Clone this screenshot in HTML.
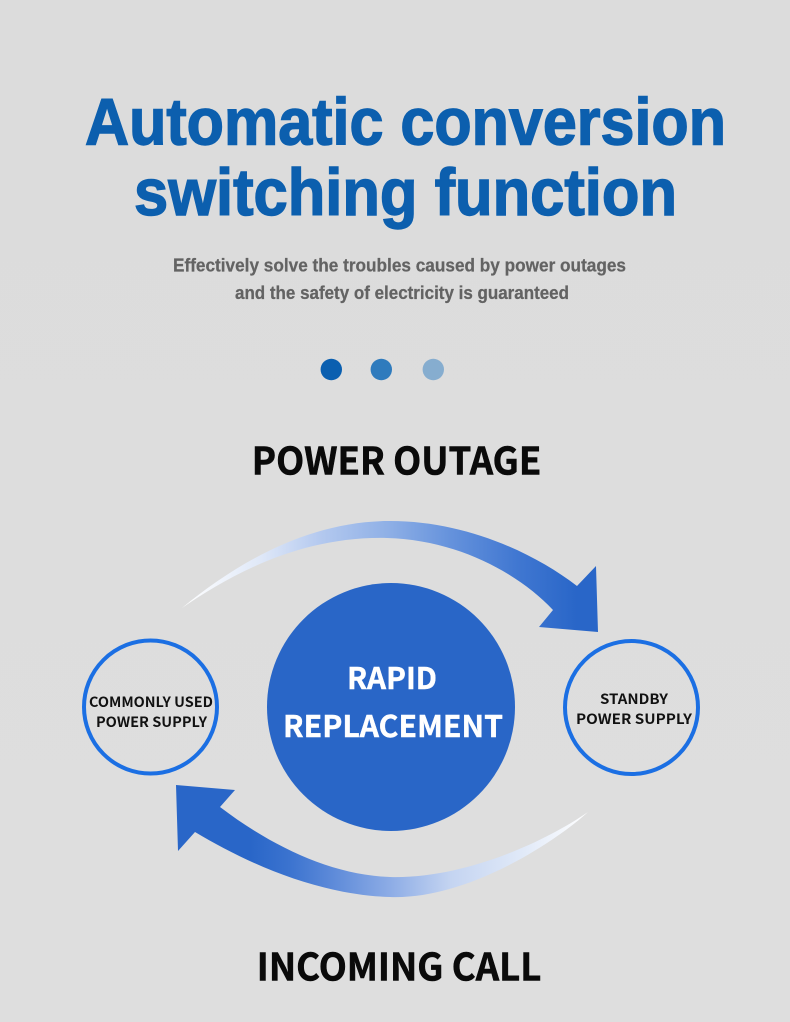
<!DOCTYPE html>
<html>
<head>
<meta charset="utf-8">
<style>
  html,body{margin:0;padding:0;background:#dcdcdc;}
  svg{display:block;}
  .title{font-family:"Liberation Sans",Arial,sans-serif;font-weight:700;fill:#0c5fae;stroke:#0c5fae;stroke-width:1.4;}
  .sub{font-family:"Liberation Sans",Arial,sans-serif;font-weight:700;fill:#636363;stroke:#636363;stroke-width:0.25;}
  .lab{font-family:"Noto Sans CJK SC","Liberation Sans",sans-serif;font-weight:700;}
  .hd{stroke:#0a0a0a;stroke-width:0.6;}
</style>
</head>
<body>
<svg width="790" height="1022" viewBox="0 0 790 1022" xmlns="http://www.w3.org/2000/svg">
  <defs>
    <linearGradient id="bg" x1="0" y1="0" x2="0" y2="1">
      <stop offset="0" stop-color="#dcdcdc"/>
      <stop offset="1" stop-color="#dedede"/>
    </linearGradient>
    <linearGradient id="gTop" gradientUnits="userSpaceOnUse" x1="182" y1="0" x2="577" y2="0">
      <stop offset="0" stop-color="#ffffff"/>
      <stop offset="0.2" stop-color="#dfe8f8"/>
      <stop offset="0.35" stop-color="#b4c9ef"/>
      <stop offset="0.52" stop-color="#8fb0e6"/>
      <stop offset="0.68" stop-color="#6592dc"/>
      <stop offset="0.85" stop-color="#4077d1"/>
      <stop offset="1" stop-color="#2966c8"/>
    </linearGradient>
    <linearGradient id="gBot" gradientUnits="userSpaceOnUse" x1="588" y1="0" x2="195" y2="0">
      <stop offset="0" stop-color="#ffffff"/>
      <stop offset="0.17" stop-color="#e0e9f8"/>
      <stop offset="0.35" stop-color="#c4d4f1"/>
      <stop offset="0.5" stop-color="#8eade6"/>
      <stop offset="0.66" stop-color="#5a88d8"/>
      <stop offset="0.76" stop-color="#3b73cf"/>
      <stop offset="0.86" stop-color="#2966c8"/>
      <stop offset="1" stop-color="#2966c8"/>
    </linearGradient>
  </defs>

  <rect x="0" y="0" width="790" height="1022" fill="url(#bg)"/>

  <!-- Title -->
  <text class="title" x="85" y="144.5" font-size="66" textLength="641" lengthAdjust="spacingAndGlyphs">Automatic conversion</text>
  <text class="title" x="134" y="215" font-size="66" textLength="543" lengthAdjust="spacingAndGlyphs">switching function</text>

  <!-- Subtitle -->
  <text class="sub" x="173" y="271.5" font-size="18" textLength="453" lengthAdjust="spacingAndGlyphs">Effectively solve the troubles  caused by power outages</text>
  <text class="sub" x="235" y="299" font-size="18" textLength="334" lengthAdjust="spacingAndGlyphs">and the safety of electricity is guaranteed</text>

  <!-- Dots -->
  <circle cx="331.3" cy="369.5" r="10.7" fill="#0a5fb0"/>
  <circle cx="381.3" cy="369.5" r="10.7" fill="#2f7bbd"/>
  <circle cx="433.3" cy="369.5" r="10.7" fill="#86adcf"/>

  <!-- Headings -->
  <text class="lab hd" x="251.8" y="474.5" font-size="38" fill="#0a0a0a" textLength="289.5" lengthAdjust="spacingAndGlyphs">POWER OUTAGE</text>
  <text class="lab hd" x="256.8" y="980.7" font-size="38" fill="#0a0a0a" textLength="284.5" lengthAdjust="spacingAndGlyphs">INCOMING CALL</text>

  <!-- Top arrow -->
  <path d="M 182,608 C 240,560 310,522 387,521 C 460,520 530,550 577,586 L 596,566 L 598,632 L 539,627 L 553,610 C 520,575 460,540 387,538 C 300,536 230,575 182,608 Z" fill="url(#gTop)"/>

  <!-- Bottom arrow -->
  <path d="M 588,812 C 560,838 470,900 390,897 C 320,895 250,865 195,832 L 178,851 L 176,785 L 235,790 L 220,807 C 270,845 330,875 390,877 C 460,879 540,845 588,812 Z" fill="url(#gBot)"/>

  <!-- Center circle -->
  <circle cx="391" cy="707" r="124" fill="#2966c7"/>
  <text class="lab" x="347" y="689" font-size="30" fill="#ffffff" stroke="#ffffff" stroke-width="0.4" textLength="90" lengthAdjust="spacingAndGlyphs">RAPID</text>
  <text class="lab" x="283" y="737" font-size="30" fill="#ffffff" stroke="#ffffff" stroke-width="0.4" textLength="220" lengthAdjust="spacingAndGlyphs">REPLACEMENT</text>

  <!-- Left circle -->
  <circle cx="150.5" cy="707" r="66.5" fill="none" stroke="#1b6fe3" stroke-width="4"/>
  <text class="lab" x="89" y="707" font-size="14" fill="#111" textLength="124" lengthAdjust="spacingAndGlyphs">COMMONLY USED</text>
  <text class="lab" x="96" y="727" font-size="14" fill="#111" textLength="111" lengthAdjust="spacingAndGlyphs">POWER SUPPLY</text>

  <!-- Right circle -->
  <circle cx="631.5" cy="707.5" r="66.5" fill="none" stroke="#1b6fe3" stroke-width="4"/>
  <text class="lab" x="600" y="704" font-size="14" fill="#111" textLength="68" lengthAdjust="spacingAndGlyphs">STANDBY</text>
  <text class="lab" x="576" y="724" font-size="14" fill="#111" textLength="116" lengthAdjust="spacingAndGlyphs">POWER SUPPLY</text>
</svg>
</body>
</html>
